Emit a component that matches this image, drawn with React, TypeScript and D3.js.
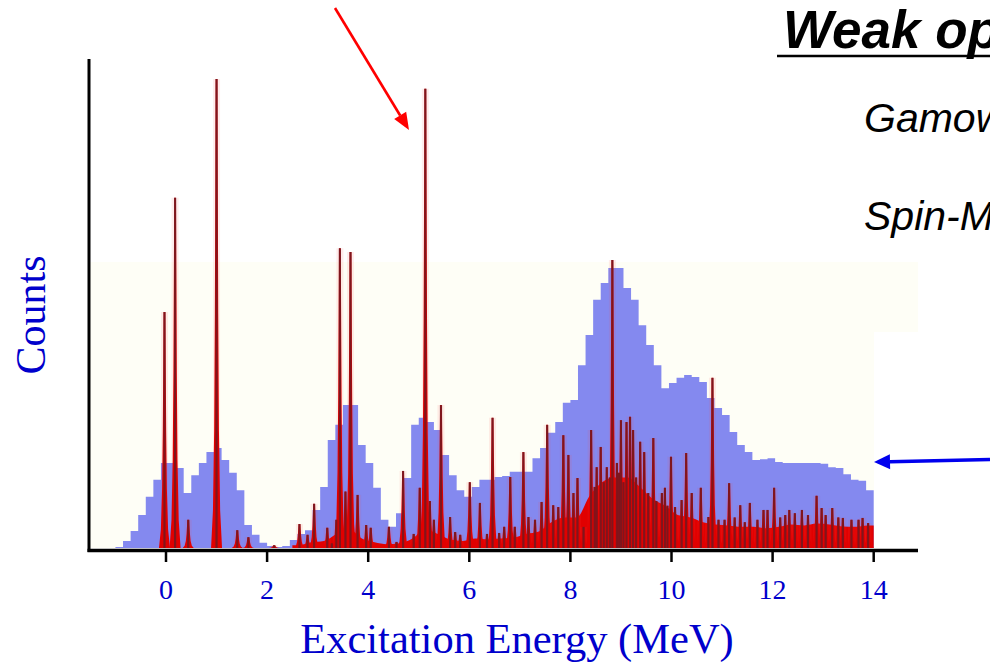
import React from 'react';
import * as d3 from 'd3';

const W = 990;
const H = 663;

// Energy axis ticks (MeV)
const energyTicks = [0, 2, 4, 6, 8, 10, 12, 14];

// Low-resolution spectrum: counts per 0.15 MeV bin, first bin starting at -1.0 MeV
const lowResStart = -1.0;
const lowResBinWidth = 0.15;
const lowResCounts = [
  0.2, 1.5, 3.6, 7.0, 10.9, 14.5, 18.1, 18.1, 17.0, 11.7,
  15.5, 18.1, 20.4, 21.3, 18.7, 16.0, 12.3, 4.9, 2.8, 1.1,
  0.4, 0.2, 0.4, 1.7, 3.0, 3.8, 8.1, 13.0, 23.0, 26.2,
  30.4, 30.4, 21.9, 18.1, 12.8, 6.0, 4.5, 7.4, 14.9, 26.2,
  27.7, 26.8, 25.1, 19.8, 15.5, 12.3, 10.9, 13.0, 14.5, 14.5,
  15.1, 15.3, 16.2, 16.2, 16.2, 19.1, 21.3, 24.5, 26.8, 30.9,
  31.5, 38.9, 45.3, 52.8, 56.4, 59.6, 59.6, 55.3, 52.8, 47.4,
  43.2, 38.9, 34.0, 35.1, 36.2, 36.8, 36.4, 35.3, 31.9, 29.8,
  28.3, 24.7, 21.9, 20.4, 18.7, 18.9, 19.1, 18.3, 18.1, 18.1,
  18.1, 18.1, 18.1, 17.9, 17.2, 17.0, 15.7, 14.5, 14.3, 12.3,
];

// High-resolution spectrum: individual lines [energy (MeV), counts]
const resolvedLines: [number, number][] = [
  [-0.03, 50.2], [0.18, 74.5], [0.44, 6.0], [1.0, 99.8], [1.41, 3.8], [1.63, 2.3], [2.14, 0.6],
  [2.64, 5.1], [2.8, 2.8], [2.93, 9.4], [3.19, 4.3], [3.28, 1.0], [3.37, 6.0], [3.44, 63.8],
  [3.55, 12.0], [3.65, 63.0], [3.79, 11.3], [3.96, 4.9], [4.05, 4.3], [4.41, 4.5], [4.56, 1.3],
  [4.69, 16.4], [4.9, 3.0], [5.02, 12.8], [5.13, 97.7], [5.22, 10.0], [5.3, 6.0], [5.44, 30.4],
  [5.62, 6.6], [5.72, 3.4], [5.82, 2.8], [6.01, 14.0], [6.21, 9.6], [6.35, 3.0], [6.46, 27.7],
  [6.59, 3.2], [6.69, 4.5], [6.81, 15.1], [6.9, 4.5], [7.07, 20.4], [7.17, 6.6], [7.3, 6.0],
  [7.43, 9.8], [7.54, 26.2], [7.66, 9.1], [7.76, 8.7], [7.86, 24.0], [7.96, 19.8], [8.06, 11.7],
  [8.14, 14.9], [8.26, 4.5], [8.41, 25.1], [8.48, 13.0], [8.52, 17.2], [8.6, 21.5], [8.66, 14.0],
  [8.72, 17.2], [8.78, 15.0], [8.83, 61.3], [8.92, 18.1], [8.96, 16.0], [9.0, 27.2], [9.05, 14.0],
  [9.11, 26.8], [9.18, 27.9], [9.24, 25.1], [9.3, 15.0], [9.38, 22.6], [9.46, 20.4], [9.54, 11.7],
  [9.64, 23.4], [9.7, 10.0], [9.81, 11.7], [9.87, 12.8], [9.92, 9.0], [9.99, 19.4], [10.07, 8.7],
  [10.2, 10.2], [10.29, 20.2], [10.4, 11.7], [10.58, 12.8], [10.73, 6.6], [10.81, 36.2],
  [10.93, 6.0], [11.05, 6.0], [11.14, 13.8], [11.25, 6.5], [11.36, 9.1], [11.45, 5.5],
  [11.55, 9.6], [11.7, 6.0], [11.82, 8.1], [11.9, 8.1], [12.03, 12.8], [12.15, 6.5], [12.25, 7.0],
  [12.33, 8.1], [12.44, 7.4], [12.58, 8.1], [12.7, 7.0], [12.87, 11.1], [12.97, 8.5], [13.05, 7.0],
  [13.18, 8.5], [13.3, 6.5], [13.39, 6.4], [13.56, 6.0], [13.7, 6.0], [13.78, 6.4], [13.89, 5.3],
];

// High-resolution unresolved continuum: counts per 0.25 MeV bin, first bin starting at 2.5 MeV
const continuumStart = 2.5;
const continuumBinWidth = 0.25;
const continuumCounts = [
  0.6, 1.2, 1.5, 3.0, 4.0, 2.0, 1.2, 0.8, 1.0, 2.0,
  4.0, 3.0, 1.8, 1.5, 2.0, 1.8, 2.0, 2.2, 3.0, 3.5,
  5.5, 6.5, 6.5, 11.0, 14.0, 15.0, 15.0, 13.0, 10.5, 9.0,
  7.0, 6.5, 5.5, 5.0, 4.8, 4.5, 4.5, 4.2, 4.5, 5.0,
  4.8, 5.2, 5.0, 4.6, 4.5, 4.8,
];

// Half-width profile of a drawn line (fraction of height, half-width in px)
const LINE_PROFILE: [number, number][] = [
  [0, 5.5], [0.08, 3.6], [0.25, 2.4], [0.5, 1.7], [0.8, 1.2], [1, 0.9],
];

export default function App() {
  const x = d3.scaleLinear().domain([0, 14]).range([166, 873.7]);
  const y = d3.scaleLinear().domain([0, 100]).range([548, 78]);
  const base = y(0);

  // stepped low-resolution histogram
  const lowResPts: [number, number][] = lowResCounts.map((c, i) => [lowResStart + i * lowResBinWidth, c]);
  lowResPts.push([lowResStart + lowResCounts.length * lowResBinWidth, lowResCounts[lowResCounts.length - 1]]);
  const histArea = d3
    .area<[number, number]>()
    .x((d) => x(d[0]))
    .y0(base)
    .y1((d) => y(d[1]))
    .curve(d3.curveStepAfter);

  // continuum under the resolved lines
  const contPts: [number, number][] = [[continuumStart, continuumCounts[0]]];
  continuumCounts.forEach((c, i) => contPts.push([continuumStart + (i + 0.5) * continuumBinWidth, c]));
  contPts.push([continuumStart + continuumCounts.length * continuumBinWidth, continuumCounts[continuumCounts.length - 1]]);
  const contArea = d3
    .area<[number, number]>()
    .x((d) => x(d[0]))
    .y0(base)
    .y1((d) => y(d[1]))
    .curve(d3.curveMonotoneX);

  const linePath = (e: number, c: number) => {
    const cx = x(e);
    const h = base - y(c);
    const left = LINE_PROFILE.map(([f, w]) => [cx - w, base - f * h] as [number, number]);
    const right = LINE_PROFILE.slice().reverse().map(([f, w]) => [cx + w, base - f * h] as [number, number]);
    return d3.line()([...left, ...right]) + 'Z';
  };

  const blueText = '#0000cc';
  const serif = '"Liberation Serif", "Times New Roman", serif';
  const sans = '"Liberation Sans", Arial, sans-serif';

  const redArrowTail = [335, 8];
  const redArrowTip = [409, 130];
  const blueArrowTail = [990, 459.5];
  const blueArrowTip = [874, 462];

  const arrowHead = (tail: number[], tip: number[], len: number, half: number) => {
    const dx = tip[0] - tail[0];
    const dy = tip[1] - tail[1];
    const L = Math.hypot(dx, dy);
    const ux = dx / L;
    const uy = dy / L;
    const bx = tip[0] - ux * len;
    const by = tip[1] - uy * len;
    return {
      poly: `${tip[0]},${tip[1]} ${bx - uy * half},${by + ux * half} ${bx + uy * half},${by - ux * half}`,
      bx,
      by,
    };
  };
  const redHead = arrowHead(redArrowTail, redArrowTip, 17, 7);
  const blueHead = arrowHead(blueArrowTail, blueArrowTip, 16, 7.5);

  return (
    <svg
      width={W}
      height={H}
      viewBox={`0 0 ${W} ${H}`}
      style={{ position: 'absolute', left: 0, top: 0, background: '#ffffff' }}
    >
      {/* faint panel behind the spectra */}
      <rect x={90} y={262} width={828} height={70} fill="#fefef6" />
      <rect x={90} y={330} width={784} height={218} fill="#fefef6" />

      {/* low-resolution spectrum */}
      <path d={histArea(lowResPts) ?? ''} fill="#8489ef" />

      {/* high-resolution spectrum */}
      <path d={contArea(contPts) ?? ''} fill="#e10000" />
      {resolvedLines.map(([e, c], i) => (
        <line
          key={`g${i}`}
          x1={x(e)}
          x2={x(e)}
          y1={base}
          y2={y(c)}
          stroke="#ff4040"
          strokeWidth={7}
          strokeOpacity={0.1}
        />
      ))}
      {resolvedLines.map(([e, c], i) => (
        <path key={`f${i}`} d={linePath(e, c)} fill="#e10000" />
      ))}
      {resolvedLines.map(([e, c], i) => (
        <line
          key={`c${i}`}
          x1={x(e)}
          x2={x(e)}
          y1={base}
          y2={y(c)}
          stroke="#6a1a22"
          strokeWidth={2.2}
          strokeOpacity={0.82}
        />
      ))}

      {/* axes */}
      <line x1={89} x2={89} y1={59} y2={552} stroke="#000" strokeWidth={3} />
      <line x1={87.5} x2={918} y1={550.5} y2={550.5} stroke="#000" strokeWidth={3.5} />
      {energyTicks.map((t) => (
        <g key={t}>
          <line x1={x(t)} x2={x(t)} y1={552} y2={562} stroke="#000" strokeWidth={2.5} />
          <text x={x(t)} y={599} textAnchor="middle" fontFamily={serif} fontSize={28} fill={blueText}>
            {t}
          </text>
        </g>
      ))}
      <text x={517} y={653} textAnchor="middle" fontFamily={serif} fontSize={42.5} fill={blueText}>
        Excitation Energy (MeV)
      </text>
      <text
        transform="translate(45,315) rotate(-90)"
        textAnchor="middle"
        fontFamily={serif}
        fontSize={42}
        fill={blueText}
      >
        Counts
      </text>

      {/* annotations */}
      <line
        x1={redArrowTail[0]}
        y1={redArrowTail[1]}
        x2={redHead.bx}
        y2={redHead.by}
        stroke="#ff0000"
        strokeWidth={2.6}
      />
      <polygon points={redHead.poly} fill="#ff0000" />
      <line
        x1={blueArrowTail[0]}
        y1={blueArrowTail[1]}
        x2={blueHead.bx}
        y2={blueHead.by}
        stroke="#0000ee"
        strokeWidth={3.5}
      />
      <polygon points={blueHead.poly} fill="#0000ee" />

      <text x={783} y={48} fontFamily={sans} fontWeight="bold" fontStyle="italic" fontSize={53} fill="#000">
        Weak op
      </text>
      <line x1={777} x2={990} y1={56} y2={56} stroke="#000" strokeWidth={2.5} />
      <text x={864} y={132} fontFamily={sans} fontStyle="italic" fontSize={41} fill="#000">
        Gamow
      </text>
      <text x={864} y={230} fontFamily={sans} fontStyle="italic" fontSize={41} fill="#000">
        Spin-M
      </text>
    </svg>
  );
}
